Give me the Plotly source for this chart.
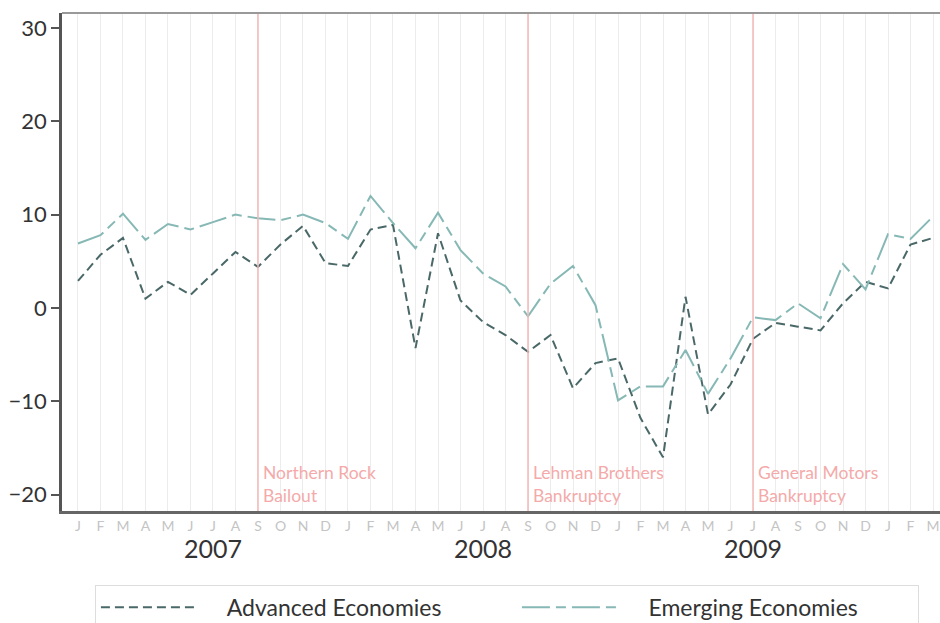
import plotly.graph_objects as go

periods = ["2007-01","2007-02","2007-03","2007-04","2007-05","2007-06","2007-07","2007-08","2007-09","2007-10","2007-11","2007-12",
           "2008-01","2008-02","2008-03","2008-04","2008-05","2008-06","2008-07","2008-08","2008-09","2008-10","2008-11","2008-12",
           "2009-01","2009-02","2009-03","2009-04","2009-05","2009-06","2009-07","2009-08","2009-09","2009-10","2009-11","2009-12",
           "2010-01","2010-02","2010-03"]
month_labels = ["J","F","M","A","M","J","J","A","S","O","N","D",
                "J","F","M","A","M","J","J","A","S","O","N","D",
                "J","F","M","A","M","J","J","A","S","O","N","D",
                "J","F","M"]
advanced = [2.9, 5.7, 7.5, 1.0, 2.8, 1.4, 3.7, 6.0, 4.4, 6.8, 8.8, 4.8,
            4.5, 8.4, 8.9, -4.3, 8.0, 0.8, -1.5, -2.9, -4.7, -2.9, -8.6, -5.9,
            -5.4, -11.8, -16.0, 1.2, -11.4, -8.2, -3.3, -1.6, -2.0, -2.4, 0.5, 2.8,
            2.1, 6.8, 7.5]
emerging = [6.9, 7.8, 10.1, 7.3, 9.0, 8.4, 9.2, 10.0, 9.6, 9.4, 10.0, 9.1,
            7.4, 12.0, 9.1, 6.4, 10.2, 6.2, 3.7, 2.3, -0.9, 2.6, 4.5, 0.3,
            -9.9, -8.4, -8.4, -4.5, -9.2, -5.4, -1.0, -1.3, 0.5, -1.1, 4.7, 2.0,
            7.9, 7.4, 9.8]
year_labels = ["2007", "2008", "2009"]
year_centers = ["2007-07", "2008-07", "2009-07"]
event_labels = ["Northern Rock<br>Bailout", "Lehman Brothers<br>Bankruptcy", "General Motors<br>Bankruptcy"]
event_periods = ["2007-09", "2008-09", "2009-07"]
y_ticks = [-20, -10, 0, 10, 20, 30]

idx = list(range(len(periods)))
FONT = "Lato"
NB = "\u00a0"

fig = go.Figure()
fig.add_trace(go.Scatter(x=idx, y=advanced, mode="lines", name=NB*4 + "Advanced Economies",
                         legendwidth=308,
                         line=dict(color="#4a6868", width=2, dash="9px,5px")))
fig.add_trace(go.Scatter(x=idx, y=emerging, mode="lines", name=NB*4 + "Emerging Economies",
                         legendwidth=288,
                         line=dict(color="#86b8b5", width=2, dash="28px,6px,10px,6px")))

shapes = []
for p in event_periods:
    xi = periods.index(p)
    shapes.append(dict(type="line", xref="x", yref="paper", x0=xi, x1=xi, y0=0, y1=1,
                       line=dict(color="#f4b8b8", width=1.5), layer="above"))
shapes.append(dict(type="line", xref="paper", yref="paper", x0=0, x1=1, y0=1, y1=1,
                   line=dict(color="#999999", width=2)))

annotations = []
for lab, p in zip(event_labels, event_periods):
    annotations.append(dict(x=periods.index(p), y=0, xref="x", yref="paper", text=lab,
                            showarrow=False, xanchor="left", yanchor="middle", align="left",
                            xshift=3, yshift=27, font=dict(family=FONT, size=17.5, color="#f4aaaa")))
for lab, p in zip(year_labels, year_centers):
    annotations.append(dict(x=periods.index(p), y=-0.075, xref="x", yref="paper", text=lab,
                            showarrow=False, xanchor="center", yanchor="middle",
                            font=dict(family=FONT, size=25, color="#333333")))

fig.update_layout(
    width=940, height=623,
    margin=dict(l=62, r=0, t=13, b=112, autoexpand=False),
    paper_bgcolor="white", plot_bgcolor="white",
    font=dict(family=FONT, color="#333333"),
    shapes=shapes, annotations=annotations,
    showlegend=True,
    legend=dict(orientation="h", x=0.0375, y=-0.148, xanchor="left", yanchor="top",
                bordercolor="#dddddd", borderwidth=1, itemwidth=98,
                entrywidthmode="pixels",
                font=dict(family=FONT, size=23, color="#333333")),
    xaxis=dict(range=[-0.71, 38.31], tickmode="array", tickvals=idx, ticktext=month_labels,
               showgrid=True, gridcolor="#ececec", gridwidth=1, zeroline=False,
               showline=True, linecolor="#666666", linewidth=2.5, ticks="",
               tickfont=dict(family=FONT, size=14, color="#c4c4c4")),
    yaxis=dict(range=[-21.75, 31.6], tickmode="array", tickvals=y_ticks,
               showgrid=False, zeroline=False, showline=True, linecolor="#555555", linewidth=2.5,
               ticks="outside", ticklen=8, tickcolor="#555555", tickwidth=1.5,
               tickfont=dict(family=FONT, size=22, color="#333333")),
)

fig.write_html("out.html", config={"displayModeBar": False},
               post_script="document.body.style.margin='0';document.body.style.overflow='hidden';")
